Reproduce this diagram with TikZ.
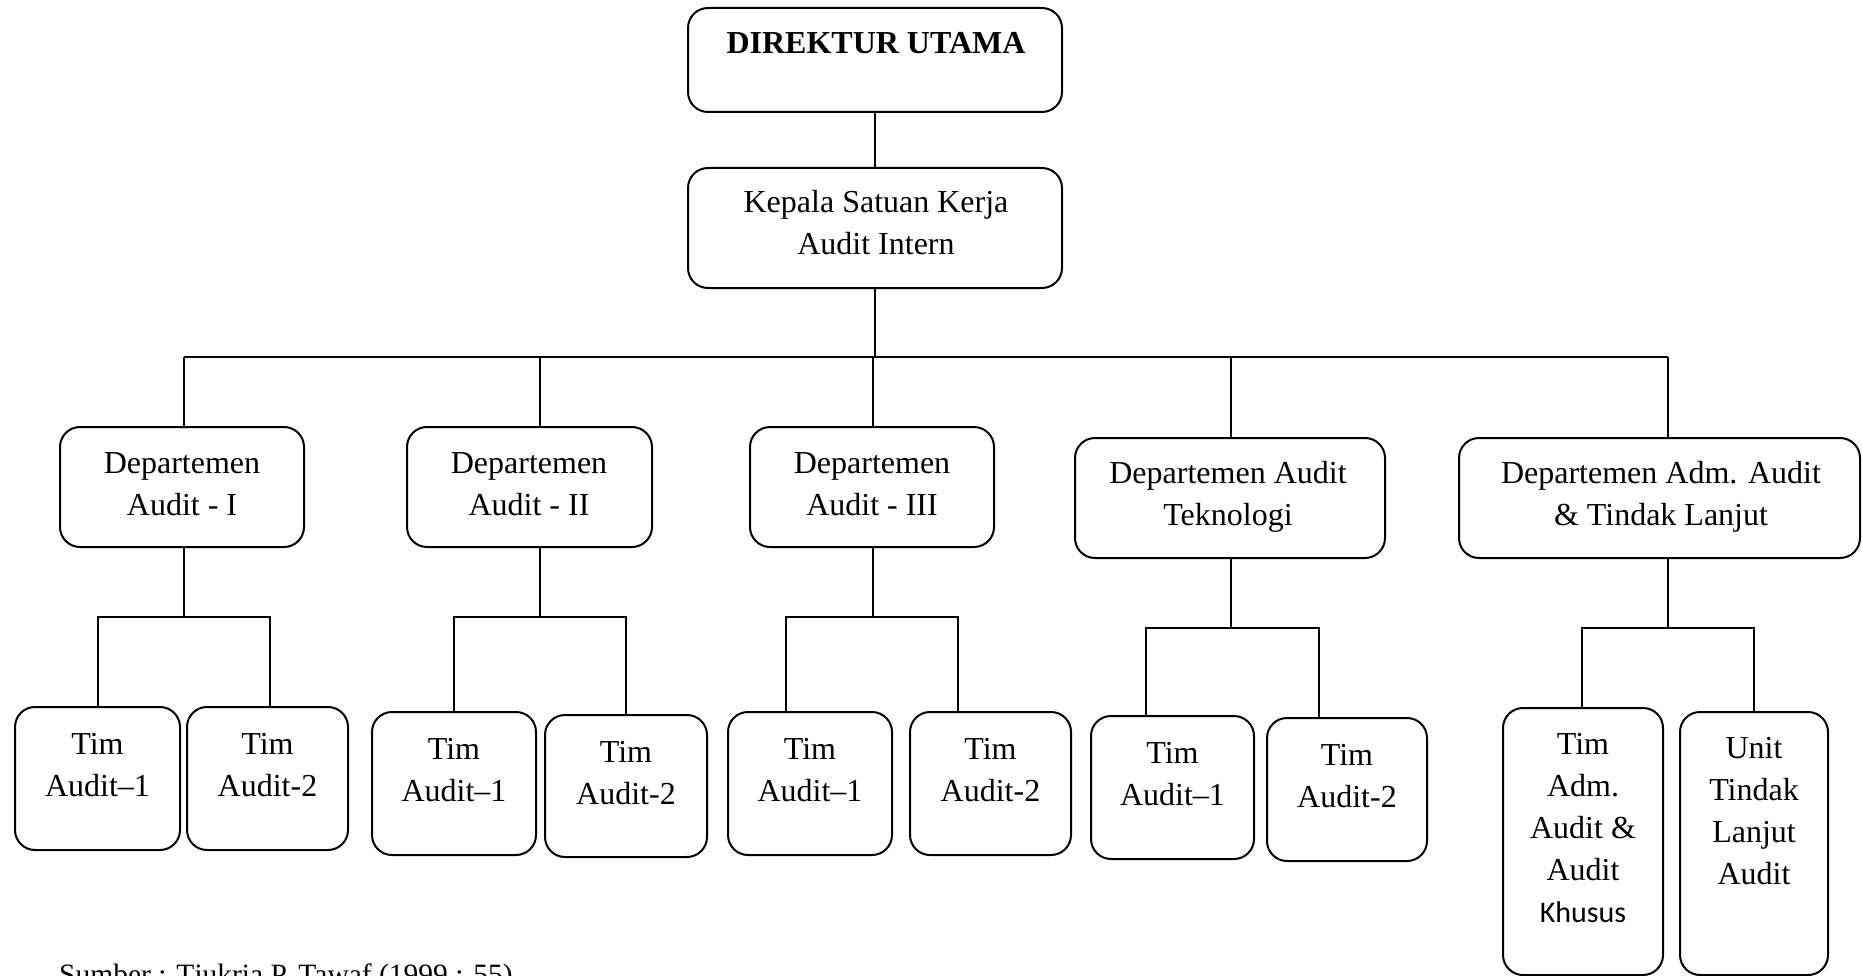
\documentclass[tikz,border=0pt]{standalone}
\usepackage{fontspec}
\setmainfont{Liberation Serif}
\setsansfont{Carlito}
\newcommand\lns[1]{\begin{tabular}[t]{@{}c@{}}#1\end{tabular}}
\newcommand\obox[5]{\node[box, minimum width=#4pt, minimum height=#5pt] (#1) at (#2,#3) {};}
\begin{document}
\begin{tikzpicture}[x=1pt,y=-1pt,
  box/.style={draw, line width=2pt, rounded corners=20pt, inner sep=0pt},
  txt/.style={anchor=base, inner sep=0pt, font=\fontsize{32}{42}\selectfont},
  conn/.style={line width=2pt}]
\useasboundingbox (0,0) rectangle (1862,976);
\clip (0,0) rectangle (1862,976);

% boxes
\obox{dir}{875}{60}{374}{104}
\obox{kep}{875}{228}{374}{120}
\obox{d1}{182}{487}{244}{120}
\obox{d2}{529.5}{487}{245}{120}
\obox{d3}{872}{487}{244}{120}
\obox{d4}{1230}{498}{310}{120}
\obox{d5}{1659.5}{498}{401}{120}
\obox{t11}{97.5}{778.5}{165}{143}
\obox{t12}{267.5}{778.5}{161}{143}
\obox{t21}{454}{783.5}{164}{143}
\obox{t22}{626}{786}{162}{142}
\obox{t31}{810}{783.5}{164}{143}
\obox{t32}{990.5}{783.5}{161}{143}
\obox{t41}{1172.5}{787.5}{163}{143}
\obox{t42}{1347}{789.5}{160}{143}
\obox{t51}{1583}{841.5}{160}{267}
\obox{t52}{1754}{843.5}{148}{263}

% texts
\node[txt] (dirT) at (876,54) {\textbf{DIREKTUR UTAMA}};
\node[txt] (kepT) at (876,213) {\lns{Kepala Satuan Kerja\\Audit Intern}};
\node[txt] (d1T) at (182,473) {\lns{Departemen\\Audit - I}};
\node[txt] (d2T) at (529,473) {\lns{Departemen\\Audit - II}};
\node[txt] (d3T) at (872,473) {\lns{Departemen\\Audit - III}};
\node[txt] (d4T) at (1228,483) {\lns{Departemen Audit\\Teknologi}};
\node[txt] (d5T) at (1661,483) {\lns{Departemen Adm. Audit\\\& Tindak Lanjut}};
\node[txt] (t11T) at (97.5,754) {\lns{Tim\\Audit--1}};
\node[txt] (t12T) at (267.5,754) {\lns{Tim\\Audit-2}};
\node[txt] (t21T) at (454,759) {\lns{Tim\\Audit--1}};
\node[txt] (t22T) at (626,762) {\lns{Tim\\Audit-2}};
\node[txt] (t31T) at (810,759) {\lns{Tim\\Audit--1}};
\node[txt] (t32T) at (990.5,759) {\lns{Tim\\Audit-2}};
\node[txt] (t41T) at (1172.5,763) {\lns{Tim\\Audit--1}};
\node[txt] (t42T) at (1347,765) {\lns{Tim\\Audit-2}};
\node[txt] (t51T) at (1583,754) {\lns{Tim\\Adm.\\Audit \&\\Audit\\{\sffamily\fontsize{30}{42}\selectfont Khusus}}};
\node[txt] (t52T) at (1754,758) {\lns{Unit\\Tindak\\Lanjut\\Audit}};
\node[anchor=base west, inner sep=0pt, font=\fontsize{29.5}{34}\selectfont] (src) at (59,984) {Sumber : Tjukria P. Tawaf (1999 : 55)};

% connectors
\coordinate (b1) at (184,357);
\coordinate (b2) at (540,357);
\coordinate (b3) at (873,357);
\coordinate (b4) at (1231,357);
\coordinate (b5) at (1668,357);
\draw[conn] (dir.south) -- (kep.north);
\draw[conn] (kep.south) -- (kep.south |- b1);
\draw[conn] (b1) -- (b5);
\draw[conn] (b1) -- (b1 |- d1.north);
\draw[conn] (b2) -- (b2 |- d2.north);
\draw[conn] (b3) -- (b3 |- d3.north);
\draw[conn] (b4) -- (b4 |- d4.north);
\draw[conn] (b5) -- (b5 |- d5.north);

\coordinate (s1) at (184,617);  \coordinate (s1a) at (98,617);   \coordinate (s1b) at (270,617);
\coordinate (s2) at (540,617);  \coordinate (s2a) at (454,617);  \coordinate (s2b) at (626,617);
\coordinate (s3) at (873,617);  \coordinate (s3a) at (786,617);  \coordinate (s3b) at (958,617);
\coordinate (s4) at (1231,628); \coordinate (s4a) at (1146,628); \coordinate (s4b) at (1319,628);
\coordinate (s5) at (1668,628); \coordinate (s5a) at (1582,628); \coordinate (s5b) at (1754,628);

\draw[conn] (d1.south -| s1) -- (s1);
\draw[conn] (d2.south -| s2) -- (s2);
\draw[conn] (d3.south -| s3) -- (s3);
\draw[conn] (d4.south -| s4) -- (s4);
\draw[conn] (d5.south -| s5) -- (s5);

\draw[conn] (s1a |- t11.north) -- (s1a) -- (s1b) -- (s1b |- t12.north);
\draw[conn] (s2a |- t21.north) -- (s2a) -- (s2b) -- (s2b |- t22.north);
\draw[conn] (s3a |- t31.north) -- (s3a) -- (s3b) -- (s3b |- t32.north);
\draw[conn] (s4a |- t41.north) -- (s4a) -- (s4b) -- (s4b |- t42.north);
\draw[conn] (s5a |- t51.north) -- (s5a) -- (s5b) -- (s5b |- t52.north);
\end{tikzpicture}
\end{document}
